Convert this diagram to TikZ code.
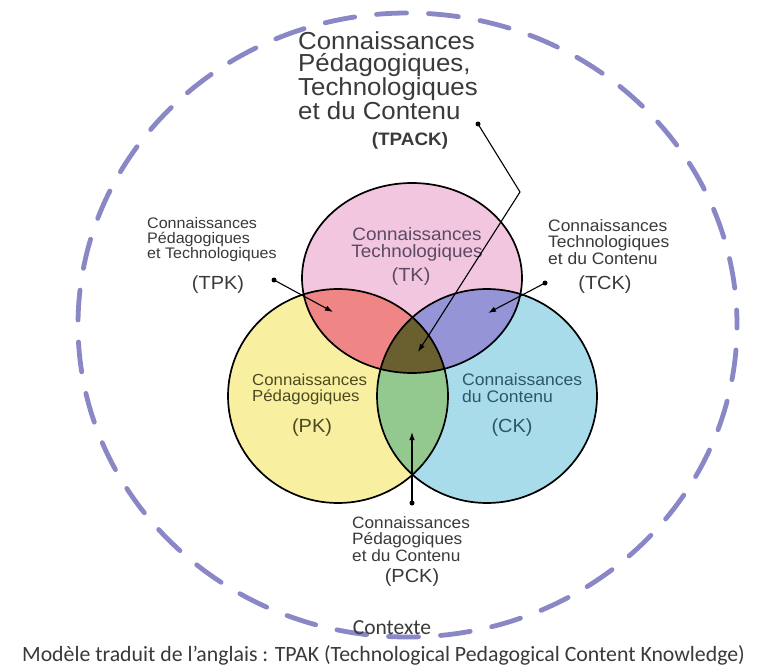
\documentclass[tikz,border=0pt]{standalone}
\usepackage{fontspec}
\setmainfont{Liberation Sans}[FakeStretch=1.05]
\newfontfamily\calib{Carlito}
\usetikzlibrary{arrows.meta}
\definecolor{pinkc}{HTML}{F2C6DE}
\definecolor{yellowc}{HTML}{F8F0A0}
\definecolor{bluec}{HTML}{A8DCEA}
\definecolor{redc}{HTML}{EF8585}
\definecolor{purplec}{HTML}{9594D6}
\definecolor{greenc}{HTML}{93C88E}
\definecolor{centerc}{HTML}{6A5F2E}
\definecolor{dashc}{HTML}{8A87C6}
\definecolor{txt}{HTML}{3A3A3A}
\definecolor{tkc}{HTML}{5B4A63}
\definecolor{pkc}{HTML}{4B4A20}
\definecolor{ckc}{HTML}{2D5668}
\begin{document}
\begin{tikzpicture}[x=1pt,y=-1pt,
  vlabel/.style={inner sep=0pt, align=left, anchor=north west, text=txt},
  paren/.style={inner sep=0pt, font=\fontsize{19}{19}\selectfont},
  dotnode/.style={circle, fill=black, inner sep=0pt, minimum size=5pt},
  conn/.style={line width=1.1pt, -{Latex[length=8pt,width=5.5pt]}},
  ring/.style={line width=1.7pt, draw=black},
  ctxring/.style={draw=dashc, line width=4.8pt, dash pattern=on 30pt off 22pt, dash phase=15pt, line cap=round}]
\useasboundingbox (0,0) rectangle (760,671);
\fill[white] (0,0) rectangle (760,671);
\def\TKpath{(412,278) ellipse [x radius=110pt, y radius=95pt]}
\def\PKpath{(338,396) ellipse [x radius=110pt, y radius=107pt]}
\def\CKpath{(487,396) ellipse [x radius=110pt, y radius=107pt]}
% context ring
\draw[ctxring] (407.5,325) ellipse [x radius=329.5pt, y radius=312pt];
% Venn fills
\fill[yellowc] \PKpath;
\fill[bluec] \CKpath;
\fill[pinkc] \TKpath;
\begin{scope}
  \clip \TKpath;
  \fill[redc] \PKpath;
  \fill[purplec] \CKpath;
\end{scope}
\begin{scope}
  \clip \PKpath;
  \fill[greenc] \CKpath;
\end{scope}
\begin{scope}
  \clip \TKpath;
  \clip \PKpath;
  \fill[centerc] \CKpath;
\end{scope}
\draw[ring] \PKpath;
\draw[ring] \CKpath;
\draw[ring] \TKpath;
% texts
\node[vlabel, font=\fontsize{24.6}{22.3}\selectfont] (tpack) at (298,31)
  {Connaissances\\Pédagogiques,\\Technologiques\\et du Contenu};
\node[inner sep=0pt, text=txt, font=\bfseries\fontsize{18}{18}\selectfont] (tpackab) at (410,141) {(TPACK)};
\node[inner sep=0pt, align=center, anchor=north, text=tkc, font=\fontsize{18}{16.5}\selectfont] (tk) at (417,227.5)
  {Connaissances\\Technologiques};
\node[paren, text=tkc] (tkab) at (411,277) {(TK)};
\node[vlabel, font=\fontsize{15.3}{14.8}\selectfont] (tpk) at (147,217.4)
  {Connaissances\\Pédagogiques\\et Technologiques};
\node[paren, text=txt] (tpkab) at (218,285) {(TPK)};
\node[vlabel, font=\fontsize{16.6}{16.5}\selectfont] (tck) at (548,219)
  {Connaissances\\Technologiques\\et du Contenu};
\node[paren, text=txt] (tckab) at (605,285) {(TCK)};
\node[vlabel, text=pkc, font=\fontsize{16}{16.2}\selectfont] (pk) at (252,373.5)
  {Connaissances\\Pédagogiques};
\node[paren, text=pkc] (pkab) at (312,428) {(PK)};
\node[vlabel, text=ckc, font=\fontsize{16.7}{16.2}\selectfont] (ck) at (462,373.5)
  {Connaissances\\du Contenu};
\node[paren, text=ckc] (ckab) at (512,428) {(CK)};
\node[vlabel, font=\fontsize{16.4}{16.5}\selectfont] (pck) at (352,516)
  {Connaissances\\Pédagogiques\\et du Contenu};
\node[paren, text=txt] (pckab) at (412,578) {(PCK)};
\node[inner sep=0pt, text=txt, font=\calib\fontsize{21.5}{21.5}\selectfont] (ctx) at (392,628) {Contexte};
\node[inner sep=0pt, text=txt, font=\calib\fontsize{21.8}{21.8}\selectfont] (caption) at (383.5,655)
  {Modèle traduit de l’anglais : TPAK (Technological Pedagogical Content Knowledge)};
% connectors
\node[dotnode] (tpackdot) at (478,124) {};
\coordinate (tpackbend) at (520,192);
\coordinate (tpacktip) at (418,352);
\draw[conn] (tpackdot.center) -- (tpackbend) -- (tpacktip);
\node[dotnode] (tpkdot) at (274,280) {};
\coordinate (tpktip) at (333,312);
\draw[conn] (tpkdot.center) -- (tpktip);
\node[dotnode] (tckdot) at (545,283) {};
\coordinate (tcktip) at (488,313);
\draw[conn] (tckdot.center) -- (tcktip);
\node[dotnode] (pckdot) at (412,503) {};
\coordinate (pcktip) at (412,432);
\draw[conn] (pckdot.center) -- (pcktip);
\end{tikzpicture}
\end{document}
